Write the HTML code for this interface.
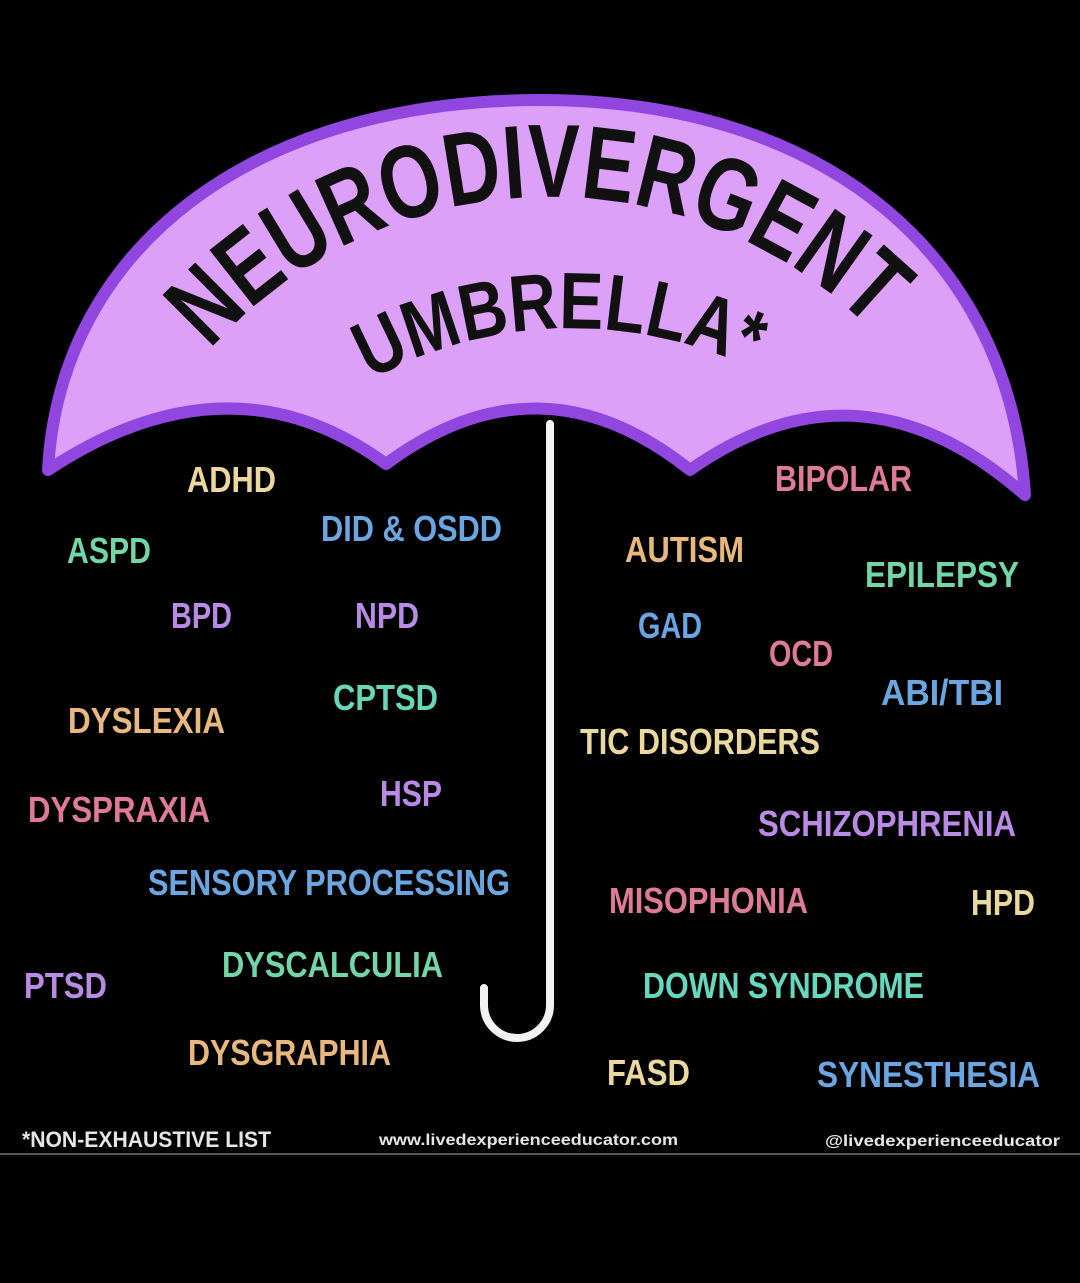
<!DOCTYPE html>
<html><head><meta charset="utf-8"><style>
html,body{margin:0;padding:0;background:#000;}
svg{display:block}
.l{font-family:"Liberation Sans Narrow","Liberation Sans",sans-serif;font-weight:bold;font-size:36px;}
</style></head><body>
<svg width="1080" height="1283" viewBox="0 0 1080 1283" xmlns="http://www.w3.org/2000/svg">
<rect width="1080" height="1283" fill="#000"/>
<path d="M48,470 C60,250 250,100 540,100 C830,100 1010,260 1025,495 Q860,350 690,470 Q540,350 386,464 Q230,350 48,470 Z" fill="#dca0f8" stroke="#9146e0" stroke-width="12" stroke-linejoin="round"/>
<defs>
<path id="a1" d="M210,350 A454,454 0 0 1 890,350"/>
<path id="a2" d="M370,380 A420,420 0 0 1 768,377"/>
</defs>
<text font-family="'Liberation Sans Narrow','Liberation Sans',sans-serif" font-weight="bold" font-size="104" fill="#111"><textPath href="#a1" textLength="740" lengthAdjust="spacingAndGlyphs">NEURODIVERGENT</textPath></text>
<text font-family="'Liberation Sans Narrow','Liberation Sans',sans-serif" font-weight="bold" font-size="80" fill="#111"><textPath href="#a2" textLength="395" lengthAdjust="spacingAndGlyphs">UMBRELLA*</textPath></text>
<path d="M550,424 L550,1005 A33,33 0 0 1 484,1005 L484,988" fill="none" stroke="#f2f2f2" stroke-width="8" stroke-linecap="round"/>
<g class="l">
<text x="187" y="492" textLength="89" lengthAdjust="spacingAndGlyphs" fill="#ead89c">ADHD</text>
<text x="67" y="563" textLength="84" lengthAdjust="spacingAndGlyphs" fill="#72d6a6">ASPD</text>
<text x="321" y="541" textLength="181" lengthAdjust="spacingAndGlyphs" fill="#6aa6e2">DID &amp; OSDD</text>
<text x="171" y="628" textLength="61" lengthAdjust="spacingAndGlyphs" fill="#b98be6">BPD</text>
<text x="355" y="628" textLength="64" lengthAdjust="spacingAndGlyphs" fill="#b98be6">NPD</text>
<text x="68" y="733" textLength="157" lengthAdjust="spacingAndGlyphs" fill="#e8b87e">DYSLEXIA</text>
<text x="333" y="710" textLength="105" lengthAdjust="spacingAndGlyphs" fill="#66d8b8">CPTSD</text>
<text x="28" y="822" textLength="182" lengthAdjust="spacingAndGlyphs" fill="#e07a9a">DYSPRAXIA</text>
<text x="380" y="806" textLength="62" lengthAdjust="spacingAndGlyphs" fill="#b98be6">HSP</text>
<text x="148" y="895" textLength="362" lengthAdjust="spacingAndGlyphs" fill="#6aa6e2">SENSORY PROCESSING</text>
<text x="222" y="977" textLength="221" lengthAdjust="spacingAndGlyphs" fill="#72d6a6">DYSCALCULIA</text>
<text x="24" y="998" textLength="83" lengthAdjust="spacingAndGlyphs" fill="#b98be6">PTSD</text>
<text x="188" y="1065" textLength="203" lengthAdjust="spacingAndGlyphs" fill="#e8b87e">DYSGRAPHIA</text>
<text x="775" y="491" textLength="137" lengthAdjust="spacingAndGlyphs" fill="#e07a9a">BIPOLAR</text>
<text x="625" y="562" textLength="119" lengthAdjust="spacingAndGlyphs" fill="#e8b87e">AUTISM</text>
<text x="865" y="587" textLength="154" lengthAdjust="spacingAndGlyphs" fill="#72d6a6">EPILEPSY</text>
<text x="638" y="638" textLength="64" lengthAdjust="spacingAndGlyphs" fill="#6aa6e2">GAD</text>
<text x="769" y="666" textLength="64" lengthAdjust="spacingAndGlyphs" fill="#e07a9a">OCD</text>
<text x="881" y="705" textLength="122" lengthAdjust="spacingAndGlyphs" fill="#6aa6e2">ABI/TBI</text>
<text x="580" y="754" textLength="240" lengthAdjust="spacingAndGlyphs" fill="#ead89c">TIC DISORDERS</text>
<text x="758" y="836" textLength="258" lengthAdjust="spacingAndGlyphs" fill="#b98be6">SCHIZOPHRENIA</text>
<text x="609" y="913" textLength="199" lengthAdjust="spacingAndGlyphs" fill="#e07a9a">MISOPHONIA</text>
<text x="971" y="915" textLength="64" lengthAdjust="spacingAndGlyphs" fill="#ead89c">HPD</text>
<text x="643" y="998" textLength="281" lengthAdjust="spacingAndGlyphs" fill="#66d8c0">DOWN SYNDROME</text>
<text x="607" y="1085" textLength="83" lengthAdjust="spacingAndGlyphs" fill="#ead89c">FASD</text>
<text x="817" y="1087" textLength="223" lengthAdjust="spacingAndGlyphs" fill="#6aa6e2">SYNESTHESIA</text>
</g>
<g font-family="'Liberation Sans Narrow','Liberation Sans',sans-serif" font-weight="bold" fill="#e6e6e6">
<text x="22" y="1147" font-size="22" textLength="249" lengthAdjust="spacingAndGlyphs">*NON-EXHAUSTIVE LIST</text>
<text x="379" y="1145" font-size="16" textLength="299" lengthAdjust="spacingAndGlyphs">www.livedexperienceeducator.com</text>
<text x="825" y="1146" font-size="16" textLength="235" lengthAdjust="spacingAndGlyphs">@livedexperienceeducator</text>
</g>
<line x1="0" y1="1154" x2="1080" y2="1154" stroke="#555" stroke-width="2"/>
</svg>
</body></html>
